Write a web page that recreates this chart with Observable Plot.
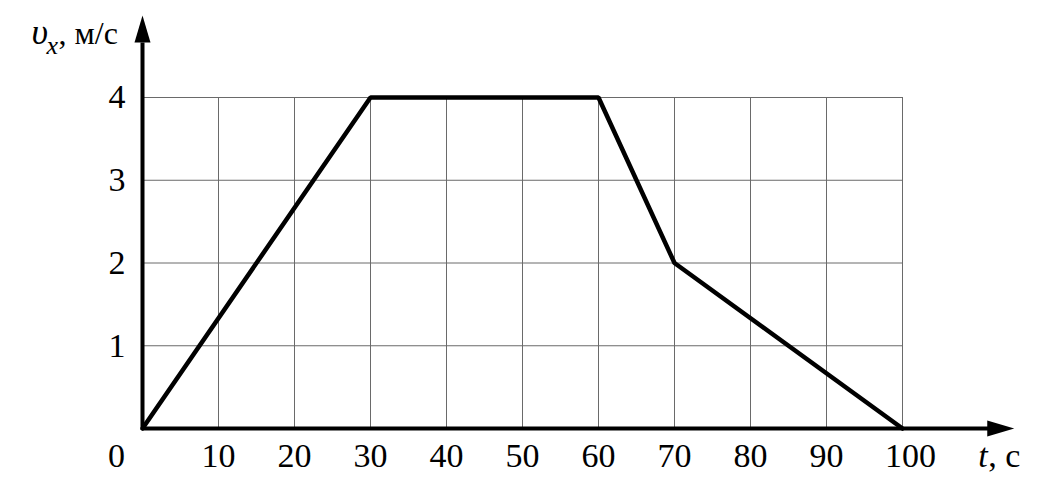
<!DOCTYPE html>
<html>
<head>
<meta charset="utf-8">
<script src="https://cdn.jsdelivr.net/npm/d3@7"></script>
<script src="https://cdn.jsdelivr.net/npm/@observablehq/plot@0.6"></script>
<style>
  html, body { margin: 0; padding: 0; background: white; }
</style>
</head>
<body>
<div id="chart"></div>
<script>
// Data
const timeS = [0, 30, 60, 70, 100];
const speed = [0, 4, 4, 2, 0];
const xTicks = [10, 20, 30, 40, 50, 60, 70, 80, 90];
const xLastTick = [100];
const yTicks = [1, 2, 3, 4];
const xGrid = [10, 20, 30, 40, 50, 60, 70, 80, 90, 100];
const yGrid = [1, 2, 3, 4];
const xAxisEnd = 114.7;   // arrow tip (data units, beyond the grid)
const yAxisEnd = 4.99;
const xLabel = "t";
const xUnit = ", с";
const yLabel = "υ";
const ySub = "x";
const yUnit = ", м/с";

const points = timeS.map((t, i) => ({t, v: speed[i]}));

const arrowSym = {
  draw(ctx) {
    ctx.moveTo(0, 0);
    ctx.lineTo(8, 27);
    ctx.lineTo(-8, 27);
    ctx.closePath();
  }
};

const serif = "'Liberation Serif', 'Times New Roman', serif";

const chart = Plot.plot({
  width: 1046,
  height: 482,
  marginLeft: 142,
  marginRight: 144,
  marginTop: 97,
  marginBottom: 54,
  x: {domain: [0, 100]},
  y: {domain: [0, 4]},
  style: {fontFamily: serif, fontSize: "34px", background: "white", color: "black"},
  marks: [
    Plot.gridX(xGrid, {stroke: "#6a6a6a", strokeOpacity: 1, strokeWidth: 1}),
    Plot.gridY(yGrid, {stroke: "#6a6a6a", strokeOpacity: 1, strokeWidth: 1}),
    Plot.line(points, {x: "t", y: "v", stroke: "black", strokeWidth: 4.5, strokeLinejoin: "miter"}),
    // axes lines
    Plot.ruleY([0], {x1: 0, x2: xAxisEnd - 3.3, stroke: "black", strokeWidth: 4}),
    Plot.ruleX([0], {y1: 0, y2: yAxisEnd - 0.33, stroke: "black", strokeWidth: 4}),
    // arrowheads
    Plot.dot([0], {x: xAxisEnd, y: 0, symbol: arrowSym, rotate: 90, fill: "black", stroke: "none"}),
    Plot.dot([0], {x: 0, y: yAxisEnd, symbol: arrowSym, fill: "black", stroke: "none"}),
    // tick labels
    Plot.axisX(xTicks, {tickSize: 0, tickPadding: 14, tickFormat: "d", fill: "black", label: null}),
    Plot.text(xLastTick, {x: d => d, y: 0, text: d => String(d), dx: 8, dy: 14, lineAnchor: "top", fontSize: 34, fill: "black"}),
    Plot.axisY(yTicks, {tickSize: 0, tickPadding: 17, tickFormat: "d", fill: "black", label: null}),
    Plot.text([0], {x: 0, y: 0, text: d => String(d), dx: -26, dy: 14, lineAnchor: "top", fontSize: 34, fill: "black"}),
    // x axis label
    Plot.text([xLabel], {x: xAxisEnd, y: 0, text: d => d, dx: -36, dy: 14, lineAnchor: "top", textAnchor: "start", fontSize: 34, fontStyle: "italic", fill: "black"}),
    Plot.text([xUnit], {x: xAxisEnd, y: 0, text: d => d, dx: -26, dy: 14, lineAnchor: "top", textAnchor: "start", fontSize: 34, fill: "black"}),
    // y axis label
    Plot.text([yLabel], {frameAnchor: "top-left", text: d => d, dx: -111, dy: -54, lineAnchor: "bottom", textAnchor: "start", fontSize: 36, fontStyle: "italic", fill: "black"}),
    Plot.text([ySub], {frameAnchor: "top-left", text: d => d, dx: -96, dy: -44, lineAnchor: "bottom", textAnchor: "start", fontSize: 26, fontStyle: "italic", fill: "black"}),
    Plot.text([yUnit], {frameAnchor: "top-left", text: d => d, dx: -84, dy: -54, lineAnchor: "bottom", textAnchor: "start", fontSize: 32, fill: "black"})
  ]
});

document.getElementById("chart").appendChild(chart);
</script>
</body>
</html>
